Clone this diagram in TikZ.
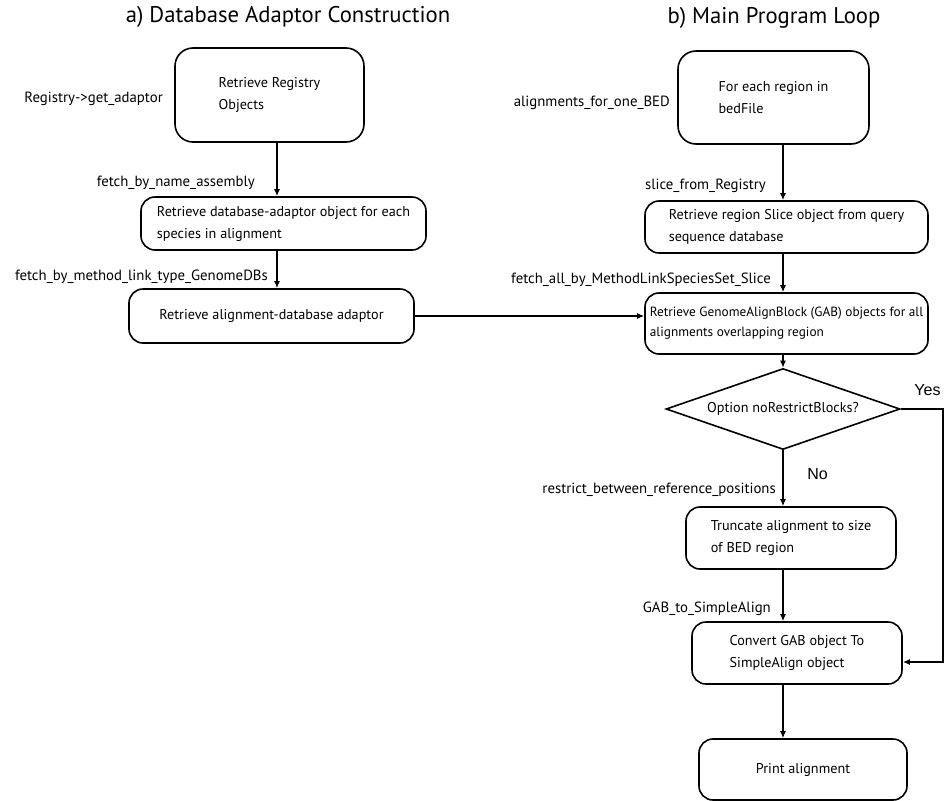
\documentclass[tikz,border=0pt]{standalone}
\usepackage{fontspec}
\setmainfont{PT Sans}
\newfontfamily\yesno{Liberation Sans}
\usetikzlibrary{arrows.meta,shapes.geometric}

\begin{document}
\begin{tikzpicture}[x=1pt,y=-1pt,>={Latex[length=7pt,width=6pt]},
  box/.style={draw,line width=1.6pt,rounded corners=14pt,align=left,
    inner sep=0pt,font=\fontsize{14.2}{22}\selectfont},
  meth/.style={anchor=east,inner sep=0pt,font=\fontsize{14.8}{16}\selectfont},
  flow/.style={->,line width=1.6pt}]
  \useasboundingbox (0,0) rectangle (946,801);
  % headings
  \node[font=\fontsize{22.7}{26}\selectfont] (ta) at (288,17) {a) Database Adaptor Construction};
  \node[font=\fontsize{22.7}{26}\selectfont] (tb) at (774,18) {b) Main Program Loop};
  % a) adaptor construction
  \node[box,rounded corners=18pt,minimum width=189pt,minimum height=94pt] (reg) at (269.5,95)
    {Retrieve Registry\\Objects};
  \node[box,minimum width=285pt,minimum height=53pt] (dbad) at (283.5,223.5)
    {Retrieve database-adaptor object for each\\species in alignment};
  \node[box,minimum width=285pt,minimum height=54pt] (adapt) at (271.5,316)
    {Retrieve alignment-database adaptor};
  % b) main loop
  \node[box,rounded corners=18pt,minimum width=191pt,minimum height=93pt] (bed) at (773.5,97.5)
    {For each region in\\bedFile};
  \node[box,minimum width=283pt,minimum height=52pt] (slice) at (786.5,227)
    {Retrieve region Slice object from query\\sequence database};
  \node[box,minimum width=283pt,minimum height=61pt,font=\fontsize{13.3}{20}\selectfont] (gab) at (786.5,323.5)
    {Retrieve GenomeAlignBlock (GAB) objects for all\\alignments overlapping region};
  \node[diamond,draw,line width=1.6pt,inner sep=0pt,shape aspect=2.9,
    minimum width=234pt,minimum height=81pt,font=\fontsize{14.2}{16}\selectfont] (opt) at (783,409)
    {Option noRestrictBlocks?};
  \node[box,minimum width=210pt,minimum height=62pt] (trunc) at (791,538)
    {Truncate alignment to size\\of BED region};
  \node[box,minimum width=210pt,minimum height=62pt] (conv) at (797,653)
    {Convert GAB object To\\SimpleAlign object};
  \node[box,minimum width=208pt,minimum height=61pt] (print) at (803,769.5)
    {Print alignment};
  % method names
  \node[meth] (m1) at (163,99) {Registry->get\_adaptor};
  \node[meth] (m2) at (255,183) {fetch\_by\_name\_assembly};
  \node[meth] (m3) at (268,277) {fetch\_by\_method\_link\_type\_GenomeDBs};
  \node[meth] (m4) at (670,103) {alignments\_for\_one\_BED};
  \node[meth] (m5) at (766,186) {slice\_from\_Registry};
  \node[meth] (m6) at (771,280) {fetch\_all\_by\_MethodLinkSpeciesSet\_Slice};
  \node[meth] (m7) at (776,490) {restrict\_between\_reference\_positions};
  \node[meth] (m8) at (771,609) {GAB\_to\_SimpleAlign};
  \node[font=\yesno\fontsize{16}{18}\selectfont,inner sep=0pt] (yes) at (927.5,390) {Yes};
  \node[font=\yesno\fontsize{16}{18}\selectfont,inner sep=0pt] (no) at (817.5,474) {No};
  % arrows
  \coordinate (colA) at (277,0);
  \coordinate (colB) at (783,0);
  \coordinate (yesturn) at (943,409);
  \draw[flow] (reg.south -| colA) -- (dbad.north -| colA);
  \draw[flow] (dbad.south -| colA) -- (adapt.north -| colA);
  \draw[flow] (adapt.east) -- (adapt.east -| gab.west);
  \draw[flow] (bed.south -| colB) -- (slice.north -| colB);
  \draw[flow] (slice.south -| colB) -- (gab.north -| colB);
  \draw[flow] (gab.south -| colB) -- (opt.north -| colB);
  \draw[flow] (opt.south) -- (trunc.north -| opt.south);
  \draw[flow] (trunc.south -| colB) -- (conv.north -| colB);
  \draw[flow] (conv.south -| colB) -- (print.north -| colB);
  \draw[flow] (opt.east) -- (yesturn) |- ([yshift=-9pt]conv.east);
\end{tikzpicture}
\end{document}
